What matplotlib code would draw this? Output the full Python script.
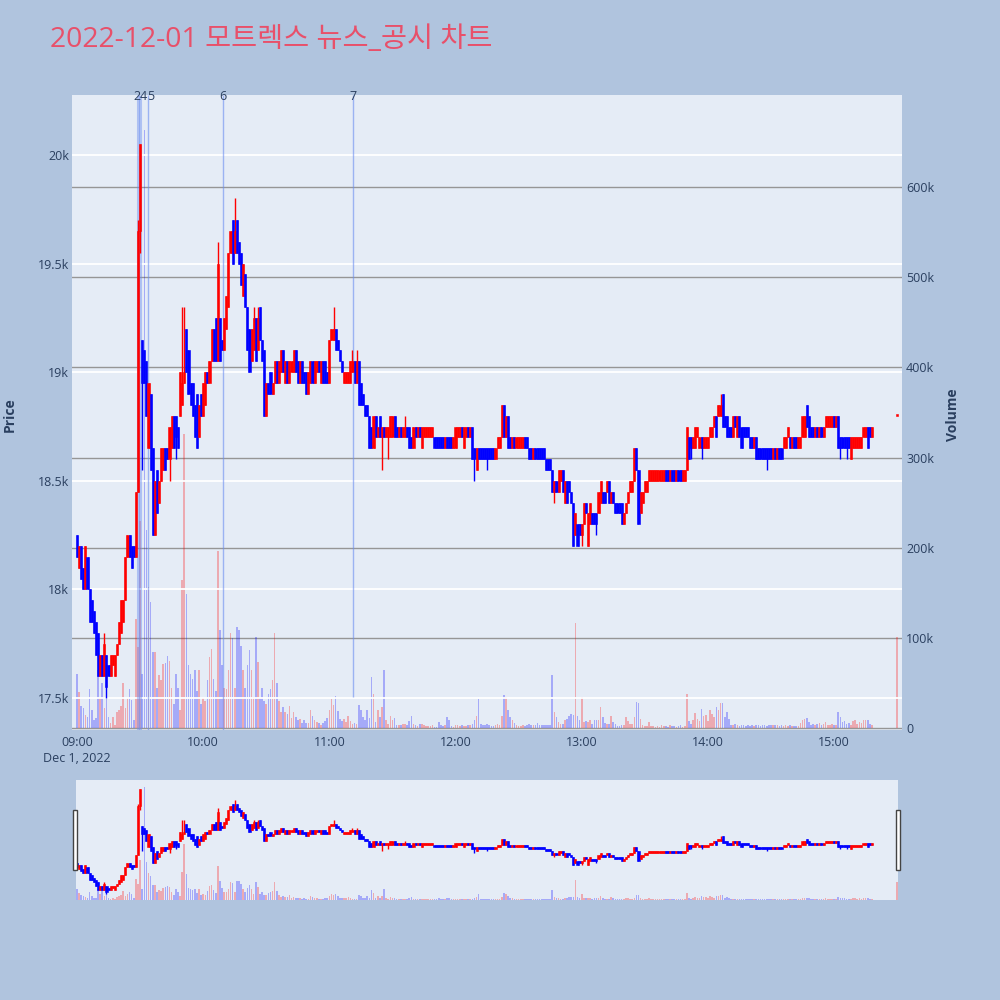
import matplotlib
matplotlib.use("Agg")
import matplotlib.pyplot as plt
from matplotlib.patches import Rectangle

plt.rcParams['font.family'] = ['Open Sans', 'Noto Sans CJK KR', 'DejaVu Sans']

title = "2022-12-01 모트렉스 뉴스_공시 차트"

# ---- 1-minute candles, 09:00 .. 15:18 (minute index from 09:00) ----
opens = [
    18250, 18100, 18200, 18100, 18000, 18150, 18000, 17950, 17900, 17850,
    17800, 17600, 17700, 17600, 17700, 17650, 17600, 17650, 17600, 17700,
    17750, 17800, 17850, 17950, 18150, 18250, 18200, 18200, 18150, 18450,
    19650, 19150, 19100, 19050, 18650, 18900, 18650, 18250, 18550, 18400,
    18500, 18550, 18650, 18650, 18600, 18650, 18800, 18800, 18750, 18800,
    18850, 18950, 19200, 19100, 18950, 18950, 18850, 18900, 18700, 18900,
    18800, 18850, 19000, 18950, 19050, 19200, 19250, 19050, 19250, 19150,
    19100, 19200, 19300, 19550, 19700, 19550, 19700, 19600, 19550, 19350,
    19450, 19300, 19200, 19050, 19100, 19250, 19100, 19300, 19150, 19100,
    18800, 18950, 19000, 18900, 18950, 19050, 18950, 19000, 19100, 18950,
    19050, 18950, 19000, 19000, 19100, 19050, 18950, 19050, 19000, 19000,
    18900, 18950, 19050, 18950, 19000, 19050, 18950, 19050, 19050, 19000,
    18950, 19150, 19150, 19200, 19150, 19100, 19050, 18950, 18950, 18950,
    18950, 19000, 19050, 18950, 19050, 18950, 18900, 18850, 18850, 18800,
    18750, 18650, 18800, 18700, 18800, 18700, 18750, 18700, 18700, 18700,
    18700, 18800, 18750, 18700, 18750, 18700, 18700, 18750, 18750, 18700,
    18650, 18750, 18700, 18750, 18650, 18700, 18700, 18700, 18700, 18700,
    18700, 18700, 18700, 18700, 18700, 18650, 18700, 18700, 18700, 18650,
    18650, 18700, 18700, 18750, 18650, 18700, 18750, 18700, 18750, 18650,
    18550, 18650, 18650, 18650, 18650, 18650, 18650, 18650, 18650, 18600,
    18650, 18650, 18700, 18850, 18700, 18800, 18700, 18650, 18700, 18650,
    18650, 18650, 18650, 18700, 18700, 18650, 18650, 18600, 18650, 18650,
    18650, 18650, 18650, 18600, 18600, 18600, 18550, 18450, 18500, 18450,
    18500, 18550, 18400, 18500, 18500, 18450, 18400, 18250, 18300, 18300,
    18250, 18300, 18400, 18200, 18300, 18350, 18350, 18350, 18350, 18400,
    18450, 18450, 18450, 18500, 18400, 18450, 18400, 18400, 18400, 18400,
    18300, 18350, 18400, 18450, 18450, 18500, 18650, 18550, 18350, 18400,
    18450, 18450, 18500, 18500, 18500, 18500, 18500, 18500, 18500, 18500,
    18550, 18550, 18500, 18550, 18550, 18500, 18550, 18550, 18500, 18500,
    18550, 18700, 18700, 18650, 18650, 18700, 18650, 18700, 18650, 18650,
    18650, 18700, 18700, 18750, 18800, 18800, 18800, 18900, 18800, 18800,
    18750, 18750, 18700, 18800, 18700, 18800, 18750, 18750, 18750, 18750,
    18700, 18700, 18650, 18700, 18650, 18650, 18650, 18650, 18650, 18650,
    18650, 18600, 18650, 18600, 18650, 18650, 18650, 18650, 18700, 18700,
    18650, 18700, 18700, 18650, 18650, 18700, 18700, 18850, 18800, 18750,
    18750, 18700, 18750, 18700, 18750, 18700, 18750, 18750, 18750, 18750,
    18800, 18750, 18800, 18700, 18700, 18700, 18700, 18700, 18600, 18650,
    18650, 18650, 18650, 18650, 18700, 18700, 18750, 18750, 18700,
]
closes = [
    18150, 18200, 18050, 18000, 18200, 18000, 17850, 17850, 17800, 17700,
    17600, 17700, 17600, 17750, 17550, 17600, 17700, 17700, 17700, 17750,
    17850, 17950, 17950, 18150, 18250, 18150, 18100, 18150, 18450, 19650,
    20050, 18950, 18950, 18800, 18950, 18550, 18250, 18500, 18350, 18500,
    18650, 18650, 18550, 18600, 18750, 18800, 18650, 18700, 18650, 19000,
    18950, 19000, 19000, 18900, 18850, 18800, 18700, 18650, 18850, 18800,
    18950, 19000, 18950, 19050, 19200, 19050, 19050, 19500, 19050, 19100,
    19250, 19350, 19550, 19650, 19500, 19650, 19550, 19500, 19400, 19500,
    19300, 19100, 19000, 19200, 19250, 19050, 19250, 19150, 19050, 18800,
    18950, 18900, 18900, 18950, 19050, 18950, 19050, 19100, 19000, 19050,
    18950, 19050, 19050, 19100, 19000, 18950, 19050, 18950, 18950, 18900,
    19000, 19050, 18950, 19050, 19050, 19000, 19050, 18950, 18950, 18950,
    19150, 19200, 19200, 19100, 19100, 19050, 19000, 19000, 19000, 19000,
    19050, 19050, 18950, 19050, 18850, 18850, 18850, 18800, 18800, 18650,
    18650, 18800, 18700, 18750, 18700, 18750, 18700, 18750, 18750, 18800,
    18800, 18700, 18700, 18750, 18700, 18750, 18750, 18700, 18650, 18650,
    18750, 18700, 18750, 18700, 18750, 18750, 18750, 18750, 18750, 18750,
    18650, 18650, 18650, 18650, 18650, 18700, 18650, 18650, 18650, 18700,
    18750, 18750, 18750, 18700, 18750, 18750, 18700, 18750, 18600, 18600,
    18650, 18600, 18600, 18600, 18600, 18600, 18600, 18600, 18600, 18650,
    18700, 18700, 18850, 18700, 18800, 18650, 18650, 18700, 18650, 18700,
    18700, 18700, 18700, 18650, 18650, 18600, 18600, 18650, 18600, 18600,
    18600, 18600, 18600, 18550, 18550, 18550, 18450, 18500, 18450, 18550,
    18550, 18450, 18500, 18400, 18450, 18400, 18200, 18350, 18200, 18250,
    18300, 18400, 18350, 18350, 18400, 18300, 18300, 18300, 18450, 18500,
    18400, 18400, 18500, 18400, 18450, 18400, 18350, 18350, 18350, 18300,
    18350, 18400, 18450, 18500, 18500, 18650, 18550, 18300, 18450, 18450,
    18500, 18500, 18550, 18550, 18550, 18550, 18550, 18550, 18550, 18550,
    18500, 18500, 18550, 18500, 18500, 18550, 18500, 18500, 18550, 18550,
    18750, 18600, 18650, 18700, 18750, 18750, 18700, 18650, 18700, 18700,
    18700, 18750, 18750, 18800, 18700, 18850, 18850, 18750, 18750, 18700,
    18700, 18700, 18800, 18750, 18800, 18700, 18650, 18700, 18700, 18700,
    18650, 18650, 18700, 18600, 18600, 18600, 18600, 18600, 18600, 18600,
    18600, 18650, 18600, 18650, 18600, 18600, 18700, 18700, 18750, 18650,
    18700, 18650, 18650, 18700, 18700, 18800, 18800, 18750, 18700, 18700,
    18700, 18750, 18700, 18750, 18700, 18750, 18800, 18800, 18800, 18800,
    18750, 18800, 18650, 18650, 18650, 18650, 18650, 18650, 18700, 18700,
    18700, 18700, 18700, 18700, 18750, 18750, 18650, 18700, 18750,
]
# volume per minute, thousands of shares
volumes_k = [
    60, 40, 25, 22, 15, 12, 43, 20, 9, 11,
    64, 34, 50, 22, 37, 12, 6, 12, 4, 18,
    20, 25, 50, 22, 34, 43, 31, 9, 121, 90,
    230, 60, 663, 220, 157, 140, 85, 84, 45, 59,
    53, 71, 72, 80, 75, 45, 27, 60, 45, 20,
    164, 326, 149, 70, 60, 55, 64, 41, 64, 27,
    34, 30, 53, 79, 88, 55, 41, 197, 109, 70,
    45, 43, 64, 105, 100, 45, 112, 109, 91, 64,
    45, 70, 87, 64, 35, 101, 73, 33, 45, 30,
    27, 38, 43, 53, 106, 50, 30, 18, 23, 18,
    16, 25, 11, 18, 12, 9, 10, 6, 9, 6,
    6, 20, 14, 9, 7, 6, 4, 6, 8, 11,
    20, 32, 26, 36, 19, 10, 8, 10, 7, 14,
    8, 5, 6, 5, 26, 20, 12, 9, 20, 11,
    57, 38, 7, 20, 12, 24, 64, 9, 5, 14,
    9, 11, 4, 3, 3, 5, 5, 3, 8, 14,
    5, 3, 2, 5, 5, 3, 2, 2, 2, 3,
    1, 1, 7, 3, 2, 3, 12, 9, 2, 1,
    3, 3, 2, 3, 2, 2, 3, 4, 5, 9,
    14, 32, 5, 4, 3, 5, 3, 2, 2, 4,
    5, 3, 14, 37, 35, 20, 12, 9, 6, 4,
    2, 2, 3, 2, 4, 5, 3, 4, 3, 6,
    4, 3, 3, 3, 3, 4, 59, 18, 12, 7,
    5, 5, 9, 10, 13, 16, 15, 117, 14, 9,
    35, 7, 8, 7, 9, 5, 9, 9, 9, 24,
    12, 6, 5, 5, 14, 7, 5, 2, 2, 3,
    4, 12, 8, 5, 5, 12, 29, 28, 10, 4,
    2, 2, 7, 2, 2, 1, 2, 1, 3, 2,
    2, 1, 3, 2, 2, 1, 2, 3, 1, 2,
    38, 8, 5, 9, 17, 10, 8, 21, 14, 15,
    8, 20, 16, 12, 24, 20, 28, 28, 12, 18,
    10, 4, 3, 5, 3, 2, 3, 4, 2, 3,
    2, 3, 2, 3, 4, 2, 3, 3, 2, 4,
    3, 4, 3, 3, 2, 4, 2, 3, 2, 4,
    2, 2, 2, 2, 6, 9, 10, 11, 7, 4,
    5, 4, 5, 6, 4, 5, 7, 4, 3, 5,
    4, 3, 18, 12, 7, 8, 5, 6, 4, 8,
    9, 5, 7, 6, 9, 9, 9, 5, 4,
]
# wicks beyond the body (minute index -> price)
wick_high = {13: 17800, 29: 19700, 50: 19300, 51: 19300, 67: 19600, 75: 19800,
             84: 19300, 86: 19300, 122: 19300, 131: 19100, 133: 19100,
             156: 18800, 306: 18900}
wick_low = {14: 17500, 30: 19550, 31: 18550, 44: 18500, 47: 18600, 145: 18550,
            148: 18600, 189: 18500, 195: 18550, 227: 18400, 240: 18200,
            247: 18250, 292: 18600, 297: 18600, 328: 18550, 363: 18600,
            366: 18600}
# closing single-price auction at 15:30
auction_minute = 390
auction_open, auction_close, auction_vol_k = 18800, 18800, 101

# news / disclosure markers
event_labels = ["2", "4", "5", "6", "7"]
event_minutes = [28.3, 31.6, 35.0, 69.4, 131.1]
event_line_minutes = [28.9, 30.1, 33.9, 69.4, 131.1]
event_line_bottom = [0.0, 0.0, 0.0, 0.0, 0.052]

time_tick_minutes = [0, 60, 120, 180, 240, 300, 360]
time_tick_labels = ["09:00", "10:00", "11:00", "12:00", "13:00", "14:00", "15:00"]
date_label = "Dec 1, 2022"
price_ticks = [17500, 18000, 18500, 19000, 19500, 20000]
price_tick_labels = ["17.5k", "18k", "18.5k", "19k", "19.5k", "20k"]
vol_ticks = [0, 100000, 200000, 300000, 400000, 500000, 600000]
vol_tick_labels = ["0", "100k", "200k", "300k", "400k", "500k", "600k"]

# ---- assemble ----
minutes = list(range(len(opens))) + [auction_minute]
O = opens + [auction_open]
C = closes + [auction_close]
V = [v * 1000 for v in volumes_k + [auction_vol_k]]
H = [max(o, c, wick_high.get(i, 0)) for i, (o, c) in enumerate(zip(O, C))]
L = [min(o, c, wick_low.get(i, 10 ** 9)) for i, (o, c) in enumerate(zip(O, C))]
UP, DOWN = "#FF0000", "#0000FF"
cols = [UP if c >= o else DOWN for o, c in zip(O, C)]
bottoms = [min(o, c) for o, c in zip(O, C)]
heights = [max(abs(c - o), 6) for o, c in zip(O, C)]

FIG_BG = "#B0C4DE"
PLOT_BG = "#E5ECF6"
TXT = "#2a3f5f"
PRICE_LIM = (17353, 20276)
VOL_LIM = (-2000, 702000)

fig = plt.figure(figsize=(10, 10), dpi=100, facecolor=FIG_BG)


def px_rect(x0, y0, x1, y1):
    return [x0 / 1000, 1 - y1 / 1000, (x1 - x0) / 1000, (y1 - y0) / 1000]


def draw_panel(rect, xlim, body_w, main=True):
    axv = fig.add_axes(rect, facecolor=PLOT_BG)
    axp = fig.add_axes(rect, facecolor="none", sharex=axv)
    axv.set_xlim(*xlim)
    axv.set_ylim(*VOL_LIM)
    axp.set_ylim(*PRICE_LIM)
    for a in (axv, axp):
        for s in a.spines.values():
            s.set_visible(False)
        a.tick_params(length=0)
    axv.bar(minutes, V, width=0.75, color=cols, alpha=0.28, linewidth=0, zorder=2)
    axp.vlines(minutes, L, H, colors=cols, linewidth=1.0, zorder=3)
    axp.bar(minutes, heights, bottom=bottoms, width=body_w, color=cols,
            edgecolor=cols, linewidth=0.4, zorder=4)
    if main:
        axv.set_yticks(vol_ticks)
        axv.grid(axis="y", color="#969696", linewidth=1.0)
        axv.set_axisbelow(True)
        axv.yaxis.tick_right()
        axv.set_yticklabels(vol_tick_labels, fontsize=9, color=TXT)
        axv.tick_params(axis="y", pad=3)
        axp.set_yticks(price_ticks)
        axp.set_yticklabels(price_tick_labels, fontsize=9, color=TXT)
        axp.tick_params(axis="y", pad=2, labelleft=True, labelright=False)
        axp.yaxis.tick_left()
        axp.grid(axis="y", color="white", linewidth=1.3, zorder=1)
        axp.set_xticks(time_tick_minutes)
        axp.set_xticklabels(time_tick_labels, fontsize=9, color=TXT)
        axp.tick_params(axis="x", pad=4)
        axv.tick_params(axis="x", labelbottom=False)
    else:
        for a in (axv, axp):
            a.set_yticks([])
        axp.tick_params(axis="x", labelbottom=False)
        axv.tick_params(axis="x", labelbottom=False)
    return axv, axp


# main plot: pixel box 72..902 x 95..730 ; 09:00 at x=77, 2.103 px/min
axv, ax = draw_panel(px_rect(72, 95, 902, 730), (-2.38, 392.3), 1.0, main=True)

# event lines and labels
tr = ax.get_xaxis_transform()
for m, b in zip(event_line_minutes, event_line_bottom):
    wide = m < 31
    ax.plot([m, m], [b, 1.0], transform=tr, color="#6B8DF0",
            alpha=0.45 if wide else 0.6, linewidth=2.2 if wide else 1.0,
            zorder=2.5, solid_capstyle="butt")
for m, lab in zip(event_minutes, event_labels):
    ax.text(m, 0.997, lab, transform=tr, ha="center", va="center",
            fontsize=9, color=TXT, zorder=6, clip_on=False)

ax.text(0, -0.045, date_label, transform=tr, ha="center", va="center",
        fontsize=9, color=TXT)

fig.text(0.010, 0.585, "Price", rotation=90, ha="center", va="center",
         fontsize=10, fontweight="bold", color=TXT)
fig.text(0.953, 0.585, "Volume", rotation=90, ha="center", va="center",
         fontsize=10, fontweight="bold", color=TXT)
fig.text(0.050, 0.960, title, ha="left", va="center", fontsize=20.4,
         color="#E8506A", family=['Open Sans', 'Noto Sans CJK KR', 'DejaVu Sans'])

# range slider: pixel box 76..898 x 780..900
draw_panel(px_rect(76, 780, 898, 900), (-0.48, 390.4), 1.0, main=False)
for x0 in (73.3, 896.3):
    fig.patches.append(Rectangle((x0 / 1000, 1 - 870 / 1000), 3.8 / 1000, 60 / 1000,
                                 transform=fig.transFigure, facecolor="white",
                                 edgecolor="#444444", linewidth=1.0, zorder=10))

fig.savefig("out.png", dpi=100, facecolor=FIG_BG)
